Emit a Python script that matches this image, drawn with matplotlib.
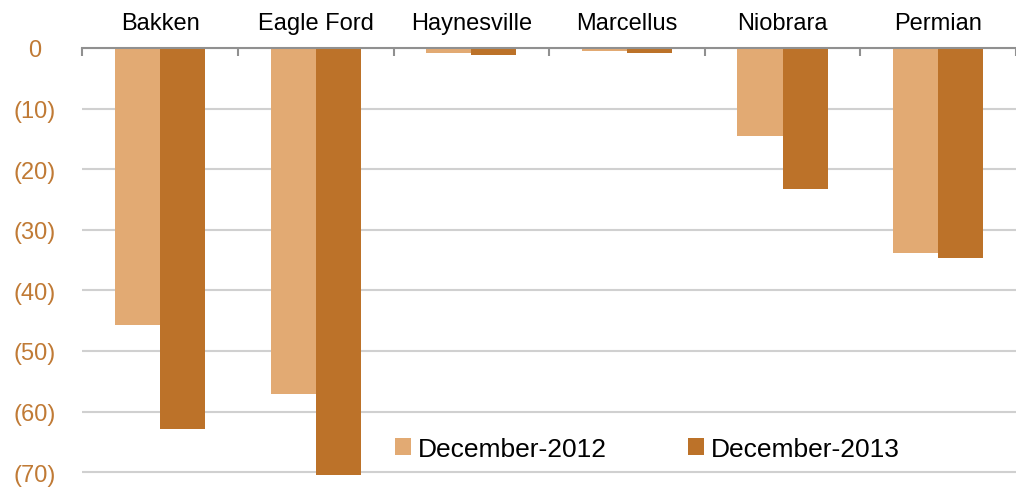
import numpy as np
import matplotlib.pyplot as plt

plt.rcParams['font.family'] = ['Liberation Sans', 'DejaVu Sans']

plays = ['Bakken', 'Eagle Ford', 'Haynesville', 'Marcellus', 'Niobrara', 'Permian']
dec_2012 = [-45.7, -57.1, -0.8, -0.5, -14.5, -33.8]
dec_2013 = [-62.9, -70.4, -1.1, -0.9, -23.3, -34.7]
yticks = [0, -10, -20, -30, -40, -50, -60, -70]

c_light = '#E2AA73'
c_dark = '#BC7229'

fig = plt.figure(figsize=(10.16, 4.89), dpi=100)
ax = fig.add_axes([0.081, 0.0, 0.919, 0.9])

x = np.arange(len(plays))
w = 0.29
ax.bar(x - w / 2, dec_2012, w, color=c_light, label='December-2012', zorder=3)
ax.bar(x + w / 2, dec_2013, w, color=c_dark, label='December-2013', zorder=3)

ax.set_xlim(-0.5, len(plays) - 0.5)
ax.set_ylim(-72.6, 0)

ax.set_yticks(yticks)
ax.set_yticklabels(['0' if v == 0 else '(%d)' % -v for v in yticks],
                   color='#C07A35', fontsize=17, ha='center')
ax.tick_params(axis='y', length=0, pad=34)
ax.grid(axis='y', color='#D0D0D0', linewidth=1.5, zorder=0)

# category names on top, boundary ticks hang below the zero line
ax.xaxis.tick_top()
ax.set_xticks(x)
ax.set_xticklabels(plays, fontsize=17)
ax.tick_params(axis='x', which='major', length=0, pad=10)
ax.set_xticks(np.arange(-0.5, len(plays), 1), minor=True)
ax.tick_params(axis='x', which='minor', direction='in', length=6,
               width=1.5, color='#909090', top=True, bottom=False)

for s in ['left', 'right', 'bottom']:
    ax.spines[s].set_visible(False)
ax.spines['top'].set_color('#909090')
ax.spines['top'].set_linewidth(1.5)
ax.spines['top'].set_zorder(4)

ax.legend(loc='lower right', bbox_to_anchor=(0.8925, 0.025), ncol=2, frameon=False,
          fontsize=19, handlelength=0.6, handleheight=0.6, handletextpad=0.25,
          columnspacing=3.1, borderaxespad=0.2)

fig.savefig('out.png', dpi=100)
